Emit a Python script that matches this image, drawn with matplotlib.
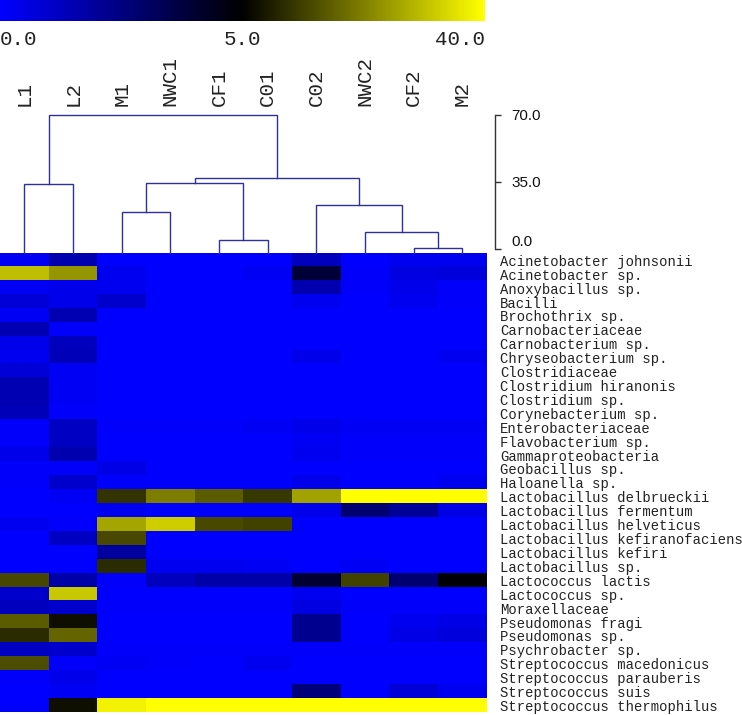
import matplotlib
matplotlib.use("Agg")
import matplotlib.pyplot as plt
import matplotlib.transforms as mtransforms
from matplotlib.colors import LinearSegmentedColormap, TwoSlopeNorm
import numpy as np

samples = ["L1", "L2", "M1", "NWC1", "CF1", "C01", "C02", "NWC2", "CF2", "M2"]

taxa = [
    "Acinetobacter johnsonii", "Acinetobacter sp.", "Anoxybacillus sp.", "Bacilli",
    "Brochothrix sp.", "Carnobacteriaceae", "Carnobacterium sp.", "Chryseobacterium sp.",
    "Clostridiaceae", "Clostridium hiranonis", "Clostridium sp.", "Corynebacterium sp.",
    "Enterobacteriaceae", "Flavobacterium sp.", "Gammaproteobacteria", "Geobacillus sp.",
    "Haloanella sp.", "Lactobacillus delbrueckii", "Lactobacillus fermentum",
    "Lactobacillus helveticus", "Lactobacillus kefiranofaciens", "Lactobacillus kefiri",
    "Lactobacillus sp.", "Lactococcus lactis", "Lactococcus sp.", "Moraxellaceae",
    "Pseudomonas fragi", "Pseudomonas sp.", "Psychrobacter sp.", "Streptococcus macedonicus",
    "Streptococcus parauberis", "Streptococcus suis", "Streptococcus thermophilus",
]

# relative abundance (%), one row per taxon, columns in sample order
abundance = [
    [0.2, 1.6, 0.0, 0.0, 0.0, 0.0, 1.3, 0.0, 0.3, 0.3],
    [31.0, 25.5, 0.3, 0.0, 0.0, 0.2, 3.9, 0.1, 0.6, 0.7],
    [0.2, 0.4, 0.3, 0.0, 0.0, 0.0, 1.6, 0.1, 0.4, 0.1],
    [0.8, 0.4, 1.0, 0.0, 0.0, 0.0, 0.3, 0.0, 0.3, 0.1],
    [0.2, 1.5, 0.0, 0.0, 0.0, 0.0, 0.0, 0.0, 0.0, 0.0],
    [1.5, 0.1, 0.0, 0.0, 0.0, 0.0, 0.0, 0.0, 0.0, 0.0],
    [0.4, 1.3, 0.0, 0.0, 0.0, 0.0, 0.0, 0.0, 0.0, 0.0],
    [0.3, 1.4, 0.0, 0.0, 0.0, 0.0, 0.4, 0.0, 0.0, 0.3],
    [0.8, 0.2, 0.0, 0.0, 0.0, 0.0, 0.0, 0.0, 0.0, 0.0],
    [1.5, 0.2, 0.0, 0.0, 0.0, 0.0, 0.0, 0.0, 0.0, 0.0],
    [1.5, 0.2, 0.0, 0.0, 0.0, 0.0, 0.0, 0.0, 0.0, 0.0],
    [1.4, 0.1, 0.0, 0.0, 0.0, 0.0, 0.0, 0.0, 0.0, 0.0],
    [0.1, 1.2, 0.1, 0.1, 0.1, 0.2, 0.4, 0.2, 0.2, 0.2],
    [0.1, 1.2, 0.0, 0.0, 0.0, 0.0, 0.2, 0.1, 0.1, 0.1],
    [0.4, 1.6, 0.0, 0.0, 0.0, 0.0, 0.3, 0.1, 0.1, 0.1],
    [0.1, 0.1, 0.5, 0.0, 0.0, 0.0, 0.0, 0.0, 0.0, 0.0],
    [0.1, 1.0, 0.0, 0.0, 0.0, 0.0, 0.4, 0.0, 0.0, 0.3],
    [0.0, 0.2, 11.9, 22.0, 17.4, 12.5, 27.0, 40.0, 40.0, 40.0],
    [0.0, 0.0, 0.3, 0.0, 0.0, 0.0, 0.4, 2.8, 2.0, 0.5],
    [0.3, 0.1, 27.6, 33.0, 15.0, 14.0, 0.0, 0.0, 0.0, 0.0],
    [0.0, 1.2, 15.0, 0.0, 0.0, 0.0, 0.0, 0.0, 0.0, 0.0],
    [0.0, 0.0, 1.9, 0.0, 0.0, 0.0, 0.0, 0.0, 0.0, 0.0],
    [0.0, 0.0, 11.0, 0.3, 0.3, 0.2, 0.0, 0.2, 0.0, 0.0],
    [14.6, 1.7, 0.1, 1.3, 1.7, 1.7, 4.0, 13.9, 2.8, 4.9],
    [1.0, 32.5, 0.0, 0.0, 0.0, 0.0, 0.3, 0.0, 0.0, 0.0],
    [1.3, 1.0, 0.1, 0.1, 0.1, 0.1, 0.6, 0.1, 0.1, 0.1],
    [17.4, 7.0, 0.0, 0.0, 0.0, 0.0, 2.2, 0.0, 0.3, 0.5],
    [11.0, 18.7, 0.0, 0.0, 0.0, 0.0, 2.2, 0.0, 0.5, 0.7],
    [1.2, 1.0, 0.1, 0.1, 0.1, 0.1, 0.1, 0.1, 0.1, 0.1],
    [15.5, 0.1, 0.2, 0.1, 0.0, 0.3, 0.0, 0.0, 0.0, 0.0],
    [0.1, 0.4, 0.0, 0.0, 0.0, 0.0, 0.0, 0.0, 0.0, 0.0],
    [0.0, 0.2, 0.0, 0.0, 0.0, 0.0, 2.6, 0.0, 0.8, 0.3],
    [0.0, 7.0, 38.0, 40.0, 40.0, 40.0, 40.0, 40.0, 40.0, 40.0],
]

# dendrogram merges (scipy style: ids >= 10 are earlier clusters) and heights
merge_left = [8, 4, 7, 2, 6, 0, 13, 16, 15]
merge_right = [9, 5, 10, 3, 12, 1, 11, 14, 17]
merge_height = [0.5, 4.4, 8.6, 19.1, 22.6, 33.8, 34.5, 36.8, 70.2]

scale_ticks = [0.0, 35.0, 70.0]
cbar_ticks = [0.0, 5.0, 40.0]

W, H = 742, 715
fig = plt.figure(figsize=(W / 100, H / 100), dpi=100)
mono = "Liberation Mono"


def fbox(x0, y0, x1, y1):
    # pixel box (top-left origin) -> figure fraction rect
    return [x0 / W, 1 - y1 / H, (x1 - x0) / W, (y1 - y0) / H]


cmap = LinearSegmentedColormap.from_list("byb", ["#0000ff", "#000000", "#ffff00"])
norm = TwoSlopeNorm(vmin=0.0, vcenter=5.0, vmax=40.0)

# heatmap
heat_right = 486.7
ax = fig.add_axes(fbox(0, 253.3, heat_right, 712.5))
data = np.array(abundance)
n_rows, n_cols = data.shape
im = ax.imshow(data, cmap=cmap, norm=norm, aspect="auto", interpolation="nearest",
               extent=(0, n_cols, n_rows, 0))
ax.set_xlim(0, n_cols)
ax.set_ylim(n_rows, 0)
ax.set_xticks([])
ax.yaxis.tick_right()
ax.set_yticks(np.arange(n_rows) + 0.5)
ax.set_yticklabels(taxa, fontfamily=mono, fontsize=10, color="#222222")
ax.tick_params(axis="y", length=0, pad=9.5)
for s in ax.spines.values():
    s.set_visible(False)

# dendrogram
base = -2.5
top = 72.6
axd = fig.add_axes(fbox(0, 110, 495, 253.3))
axd.set_xlim(0, n_cols * 495 / heat_right)
axd.set_ylim(base, top)
pos = {i: i + 0.5 for i in range(n_cols)}
hgt = {i: base for i in range(n_cols)}
for k, (a, b, h) in enumerate(zip(merge_left, merge_right, merge_height)):
    xa, xb = pos[a], pos[b]
    axd.plot([xa, xa, xb, xb], [hgt[a], h, h, hgt[b]], color="#30309a", lw=1.0,
             solid_joinstyle="miter", clip_on=False)
    pos[n_cols + k] = (xa + xb) / 2
    hgt[n_cols + k] = h
for name in ["top", "left", "bottom"]:
    axd.spines[name].set_visible(False)
axd.spines["right"].set_bounds(0, 70)
axd.spines["right"].set_color("#333333")
axd.spines["right"].set_linewidth(1.0)
axd.set_xticks([])
axd.yaxis.tick_right()
axd.set_yticks(scale_ticks)
axd.set_yticklabels(["%.1f" % t for t in scale_ticks], fontfamily="Liberation Sans",
                    fontsize=11, color="#111111")
axd.tick_params(axis="y", direction="out", length=4, width=1.0, color="#333333", pad=8)
axd.get_yticklabels()[0].set_va("bottom")
axd.patch.set_visible(False)

# sample labels above the dendrogram
tr = mtransforms.blended_transform_factory(axd.transData, fig.transFigure)
for i, name in enumerate(samples):
    axd.text(i + 0.5, 1 - 106 / H, name, rotation=90, ha="center", va="bottom",
             fontfamily=mono, fontsize=15, color="#222222", transform=tr)

# colour key
axc = fig.add_axes(fbox(0, 0, 485, 20.7))
cb = fig.colorbar(im, cax=axc, orientation="horizontal", ticks=cbar_ticks)
cb.outline.set_visible(False)
axc.tick_params(axis="x", length=0, pad=6.5)
axc.set_xticklabels(["%.1f" % t for t in cbar_ticks], fontfamily=mono, fontsize=15,
                    color="#222222")
labels = axc.get_xticklabels()
labels[0].set_ha("left")
labels[-1].set_ha("right")

fig.savefig("out.png", dpi=100)
